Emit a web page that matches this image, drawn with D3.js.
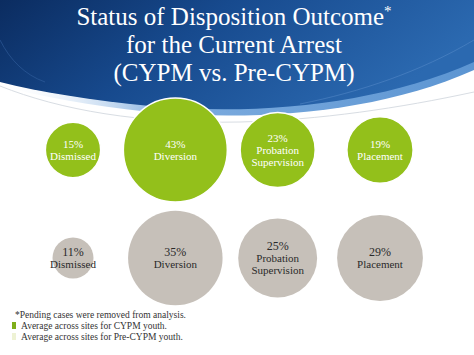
<!DOCTYPE html>
<html>
<head>
<meta charset="utf-8">
<script src="https://cdn.jsdelivr.net/npm/d3@7"></script>
<style>
  html, body { margin: 0; padding: 0; background: #ffffff; }
  svg { display: block; }
  .serif { font-family: "Liberation Serif", Tinos, "Times New Roman", "Noto Serif", "DejaVu Serif", serif; }
</style>
</head>
<body>
<svg id="chart" width="474" height="355"></svg>
<script>
// ---- data ----
const titleLines = ["Status of Disposition Outcome", "for the Current Arrest", "(CYPM vs. Pre-CYPM)"];
const categories = ["Dismissed", "Diversion", "Probation Supervision", "Placement"];
const groups = ["CYPM", "Pre-CYPM"];
const cypmValues = [15, 43, 23, 19];
const preCypmValues = [11, 35, 25, 29];
const footnotes = ["*Pending cases were removed from analysis.",
                   "Average across sites for CYPM youth.",
                   "Average across sites for Pre-CYPM youth."];

const W = 474, H = 355;
const svg = d3.select("#chart");
const defs = svg.append("defs");

// header gradient
const g1 = defs.append("linearGradient").attr("id", "hdr").attr("x1", "0").attr("y1", "0").attr("x2", "1").attr("y2", "0.3");
g1.append("stop").attr("offset", "0").attr("stop-color", "#0b2c60");
g1.append("stop").attr("offset", "0.45").attr("stop-color", "#174a8e");
g1.append("stop").attr("offset", "1").attr("stop-color", "#2b69b0");
const g2 = defs.append("linearGradient").attr("id", "band").attr("x1", "0").attr("y1", "0").attr("x2", "1").attr("y2", "0");
g2.append("stop").attr("offset", "0").attr("stop-color", "#ffffff").attr("stop-opacity", 0);
g2.append("stop").attr("offset", "0.35").attr("stop-color", "#6fa3db").attr("stop-opacity", 0.9);
g2.append("stop").attr("offset", "1").attr("stop-color", "#5c95d2");

// header shapes
svg.append("path")
  .attr("d", "M0,0 L474,0 L474,70 C380,112 260,122 150,112 C90,106 40,96 0,86 Z")
  .attr("fill", "url(#band)");
svg.append("path")
  .attr("d", "M0,0 L474,0 L474,62 C380,104 260,116 150,106 C90,100 40,92 0,82 Z")
  .attr("fill", "url(#hdr)");

// faint swoosh lines
svg.append("path")
  .attr("d", "M0,86 C60,110 140,124 240,122 C320,120 400,108 474,92")
  .attr("fill", "none").attr("stroke", "#d8dde3").attr("stroke-width", 1);
svg.append("path")
  .attr("d", "M0,40 C10,60 25,75 45,82")
  .attr("fill", "none").attr("stroke", "#3a6aa8").attr("stroke-width", 0.8).attr("opacity", 0.6);
svg.append("path")
  .attr("d", "M300,104 C360,92 420,72 474,40")
  .attr("fill", "none").attr("stroke", "#5d90cc").attr("stroke-width", 0.8).attr("opacity", 0.6);

// title
const title = svg.append("g").attr("class", "serif")
  .attr("fill", "#ffffff").attr("text-anchor", "middle");
const titleY = d3.scaleLinear().domain([0, 2]).range([25, 81]);
titleLines.forEach((t, i) => {
  const txt = title.append("text").attr("x", 234).attr("y", titleY(i)).attr("font-size", 25).text(t);
  if (i === 0) txt.append("tspan").attr("font-size", 15).attr("dy", -9).text("*");
});

// scales
const x = d3.scalePoint().domain(categories).range([73, 380]);
const y = d3.scalePoint().domain(groups).range([150, 258]);
const r = d3.scaleLog().domain([11, 43]).range([20.5, 52]);

const fills = { "CYPM": "#93c01b", "Pre-CYPM": "#c6c0b9" };
const textColors = { "CYPM": "#ffffff", "Pre-CYPM": "#2a2a2a" };

const data = [];
groups.forEach((gname, gi) => {
  const vals = gi === 0 ? cypmValues : preCypmValues;
  categories.forEach((c, ci) => data.push({ group: gname, cat: c, value: vals[ci] }));
});

const nodes = svg.append("g").selectAll("g").data(data).join("g")
  .attr("transform", d => `translate(${x(d.cat)},${y(d.group)})`);

nodes.append("circle")
  .attr("r", d => r(d.value))
  .attr("fill", d => fills[d.group])
  .attr("stroke", "#ffffff")
  .attr("stroke-width", d => d.group === "CYPM" ? 1.5 : 0);

nodes.each(function(d) {
  const lines = [d.value + "%"].concat(d.cat.split(" "));
  const n = lines.length;
  const t = d3.select(this).append("text")
    .attr("class", "serif")
    .attr("text-anchor", "middle")
    .attr("fill", textColors[d.group]);
  lines.forEach((l, i) => {
    t.append("tspan")
      .attr("x", 0)
      .attr("y", (i - (n - 1) / 2) * 12 + 4)
      .attr("font-size", i === 0 && d.group === "Pre-CYPM" ? 12 : 11)
      .text(l);
  });
});

// footnotes
const fn = svg.append("g").attr("class", "serif")
  .attr("font-size", 9.5).attr("fill", "#333333");
const fy = d3.scaleLinear().domain([0, 2]).range([318, 340]);
fn.append("text").attr("x", 15).attr("y", fy(0)).text(footnotes[0]);
fn.append("rect").attr("x", 12).attr("y", fy(1) - 7).attr("width", 4).attr("height", 7).attr("fill", "#7fae1a");
fn.append("text").attr("x", 21).attr("y", fy(1)).text(footnotes[1]);
fn.append("rect").attr("x", 12).attr("y", fy(2) - 7).attr("width", 4).attr("height", 7).attr("fill", "#eef2d4");
fn.append("text").attr("x", 21).attr("y", fy(2)).text(footnotes[2]);
</script>
</body>
</html>
